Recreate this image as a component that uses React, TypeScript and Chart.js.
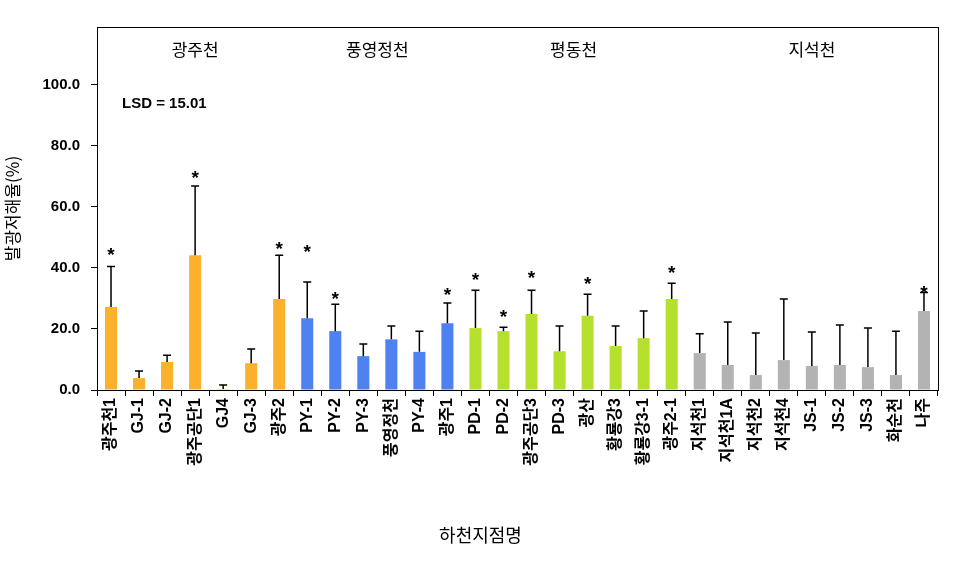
import React, { useEffect, useRef } from "react";
import { Chart, registerables } from "chart.js";

Chart.register(...registerables);

const categories = [
  "광주천1", "GJ-1", "GJ-2", "광주공단1", "GJ4", "GJ-3", "광주2",
  "PY-1", "PY-2", "PY-3", "풍영정천", "PY-4", "광주1",
  "PD-1", "PD-2", "광주공단3", "PD-3", "광산", "황룡강3", "황룡강3-1", "광주2-1",
  "지석천1", "지석천1A", "지석천2", "지석천4", "JS-1", "JS-2", "JS-3", "화순천", "나주",
];

const values = [
  27.2, 3.9, 9.2, 44.2, 0.3, 8.8, 29.8,
  23.5, 19.3, 11.1, 16.6, 12.5, 21.9,
  20.3, 19.3, 24.9, 12.7, 24.3, 14.4, 17.0, 29.8,
  12.1, 8.2, 4.9, 9.8, 7.9, 8.2, 7.5, 4.9, 25.9,
];

const errors = [
  13.3, 2.3, 2.2, 22.7, 1.3, 4.6, 14.4,
  11.9, 8.8, 4.0, 4.4, 6.8, 6.6,
  12.4, 1.3, 7.8, 8.3, 7.1, 6.6, 8.9, 5.2,
  6.3, 14.1, 13.8, 20.0, 11.1, 13.1, 12.8, 14.4, 6.1,
];

// level (in data units) of the significance asterisk, null = not significant
const starLevels: (number | null)[] = [
  45.9, null, null, 71.1, null, null, 47.9,
  46.7, 31.5, null, null, null, 32.8,
  37.5, 25.5, 38.3, null, 36.4, null, null, 39.8,
  null, null, null, null, null, null, null, null, 33.3,
];

const groupNames = ["광주천", "풍영정천", "평동천", "지석천"];
const groupSizes = [7, 6, 8, 9];
const groupColors = ["#FBB12B", "#4F82F0", "#B5E12E", "#B3B3B3"];

const yTicks = [0, 20, 40, 60, 80, 100];
const yMax = 119;
const lsdText = "LSD = 15.01";
const yTitle = "발광저해율(%)";
const xTitle = "하천지점명";

const SANS = 'Arial, "Liberation Sans", "Noto Sans CJK KR", sans-serif';
const KR = '"Noto Sans CJK KR", "Noto Sans", sans-serif';

const barColors: string[] = [];
groupSizes.forEach((n, g) => {
  for (let i = 0; i < n; i++) barColors.push(groupColors[g]);
});

const overlayPlugin = {
  id: "overlay",
  afterDatasetsDraw(chart: any) {
    const ctx = chart.ctx;
    const xs = chart.scales.x;
    const ys = chart.scales.y;
    const meta = chart.getDatasetMeta(0);
    const area = chart.chartArea;
    ctx.save();
    // error bars
    ctx.strokeStyle = "#000";
    ctx.lineWidth = 1.5;
    values.forEach((v, i) => {
      const x = meta.data[i].x;
      const y0 = ys.getPixelForValue(v);
      const y1 = ys.getPixelForValue(v + errors[i]);
      ctx.beginPath();
      ctx.moveTo(x, y0);
      ctx.lineTo(x, y1);
      ctx.moveTo(x - 4, y1);
      ctx.lineTo(x + 4, y1);
      ctx.stroke();
    });
    // asterisks
    const starSize = 19;
    ctx.fillStyle = "#000";
    ctx.font = `bold ${starSize}px ${SANS}`;
    ctx.textAlign = "center";
    ctx.textBaseline = "alphabetic";
    starLevels.forEach((s, i) => {
      if (s === null) return;
      const x = meta.data[i].x;
      const y = ys.getPixelForValue(s);
      ctx.fillText("*", x, y + 0.57 * starSize);
    });
    // box
    ctx.lineWidth = 1;
    ctx.strokeStyle = "#000";
    ctx.strokeRect(Math.round(area.left) + 0.5, Math.round(area.top) + 0.5,
      Math.round(area.right - area.left), Math.round(area.bottom - area.top));
    // group headers
    ctx.font = `17px ${KR}`;
    ctx.textBaseline = "middle";
    let start = 0;
    groupNames.forEach((name, g) => {
      const end = start + groupSizes[g] - 1;
      const cx = (xs.getPixelForValue(start) + xs.getPixelForValue(end)) / 2;
      ctx.fillText(name, cx, area.top + 23);
      start = end + 1;
    });
    // x title, centred on the whole figure
    ctx.font = `18px ${KR}`;
    ctx.fillText(xTitle, chart.width / 2, 535);
    // LSD
    ctx.font = `bold 15px ${SANS}`;
    ctx.textAlign = "left";
    ctx.fillText(lsdText, area.left + 25, area.top + 77);
    ctx.restore();
  },
};

export default function App() {
  const ref = useRef<HTMLCanvasElement>(null);
  useEffect(() => {
    document.body.style.margin = "0";
    const chart = new Chart(ref.current as HTMLCanvasElement, {
      type: "bar",
      data: {
        labels: categories,
        datasets: [
          {
            data: values,
            backgroundColor: barColors,
            borderWidth: 0,
            barPercentage: 0.43,
            categoryPercentage: 1.0,
          },
        ],
      },
      options: {
        animation: false,
        responsive: false,
        layout: { padding: { top: 27, right: 23, left: 0, bottom: 0 } },
        plugins: { legend: { display: false }, tooltip: { enabled: false } },
        scales: {
          x: {
            afterFit: (s: any) => { s.height = 175; },
            border: { display: true, color: "#000", width: 1 },
            grid: { display: true, drawOnChartArea: false, drawTicks: true, tickLength: 6, color: "#000", offset: true },
            ticks: {
              autoSkip: false, maxRotation: 90, minRotation: 90, color: "#000",
              font: { size: 16, weight: "bold", family: SANS }, padding: 2,
            },
            title: { display: false },
          },
          y: {
            min: 0,
            max: yMax,
            afterFit: (s: any) => { s.width = 97; },
            afterBuildTicks: (s: any) => { s.ticks = yTicks.map((v) => ({ value: v })); },
            border: { display: true, color: "#000", width: 1 },
            grid: { display: true, drawOnChartArea: false, drawTicks: true, tickLength: 6, color: "#000" },
            ticks: {
              color: "#000", padding: 11,
              font: { size: 15, weight: "bold", family: SANS },
              callback: (v: any) => Number(v).toFixed(1),
            },
            title: {
              display: true, text: yTitle, color: "#000",
              font: { size: 17, family: KR }, padding: { top: 2, bottom: 0 },
            },
          },
        },
      } as any,
      plugins: [overlayPlugin],
    });
    return () => chart.destroy();
  }, []);
  return (
    <div style={{ position: "absolute", left: 0, top: 0, width: 961, height: 565 }}>
      <canvas ref={ref} width={961} height={565} />
    </div>
  );
}
